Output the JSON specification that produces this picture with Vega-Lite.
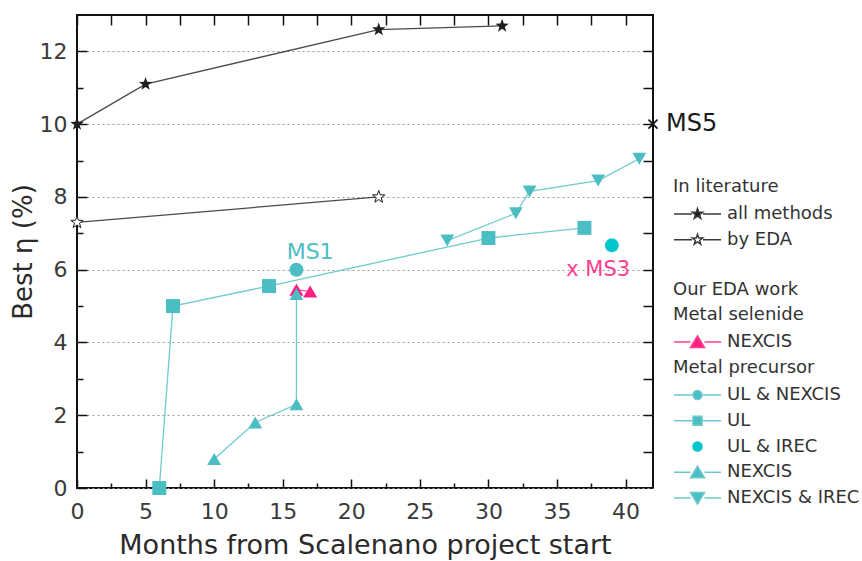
{
  "$schema": "https://vega.github.io/schema/vega-lite/v6.json",
  "width": 576,
  "height": 473,
  "autosize": "none",
  "padding": {"left": 77, "top": 15, "right": 209, "bottom": 73},
  "background": "white",
  "config": {
    "font": "DejaVu Sans",
    "view": {"stroke": "#111", "strokeWidth": 2},
    "axis": {
      "domain": false,
      "tickColor": "#111",
      "tickWidth": 1.5,
      "labelFlush": false,
      "labelFont": "DejaVu Sans",
      "labelFontSize": 22,
      "labelColor": "#3a3a3a",
      "titleFont": "DejaVu Sans",
      "titleFontWeight": "normal",
      "titleColor": "#2a2a2a"
    },
    "legend": {
      "orient": "none",
      "padding": 0,
      "symbolSize": 400,
      "symbolStrokeWidth": 1.5,
      "symbolOpacity": 1,
      "labelOffset": 32,
      "labelFont": "DejaVu Sans",
      "labelFontSize": 18,
      "labelColor": "#333333",
      "labelLimit": 300,
      "rowPadding": 5.75,
      "titleFont": "DejaVu Sans",
      "titleFontSize": 18,
      "titleFontWeight": "normal",
      "titleColor": "#333333",
      "titlePadding": 7,
      "titleLineHeight": 25,
      "titleLimit": 300
    }
  },
  "datasets": {
    "efficiency": [
      {"series": "all methods", "month": 0, "eta": 10.0},
      {"series": "all methods", "month": 5, "eta": 11.1},
      {"series": "all methods", "month": 22, "eta": 12.6},
      {"series": "all methods", "month": 31, "eta": 12.7},
      {"series": "by EDA", "month": 0, "eta": 7.3},
      {"series": "by EDA", "month": 22, "eta": 8.0},
      {"series": "NEXCIS (Se)", "month": 16, "eta": 5.45},
      {"series": "NEXCIS (Se)", "month": 17, "eta": 5.4},
      {"series": "UL & NEXCIS", "month": 16, "eta": 6.0},
      {"series": "UL", "month": 6, "eta": 0.0},
      {"series": "UL", "month": 7, "eta": 5.0},
      {"series": "UL", "month": 14, "eta": 5.55},
      {"series": "UL", "month": 30, "eta": 6.87},
      {"series": "UL", "month": 37, "eta": 7.15},
      {"series": "UL & IREC", "month": 39, "eta": 6.67},
      {"series": "NEXCIS", "month": 10, "eta": 0.8},
      {"series": "NEXCIS", "month": 13, "eta": 1.8},
      {"series": "NEXCIS", "month": 16, "eta": 2.3},
      {"series": "NEXCIS", "month": 16, "eta": 5.33},
      {"series": "NEXCIS & IREC", "month": 27, "eta": 6.8},
      {"series": "NEXCIS & IREC", "month": 32, "eta": 7.55},
      {"series": "NEXCIS & IREC", "month": 33, "eta": 8.15},
      {"series": "NEXCIS & IREC", "month": 38, "eta": 8.45},
      {"series": "NEXCIS & IREC", "month": 41, "eta": 9.05}
    ]
  },
  "resolve": {
    "axis": {"x": "independent", "y": "independent"},
    "scale": {"shape": "independent", "fill": "independent", "stroke": "independent"},
    "legend": {"shape": "independent", "fill": "independent", "stroke": "independent"}
  },
  "layer": [
    {
      "data": {"name": "efficiency"},
      "transform": [{"filter": "datum.series !== 'UL & NEXCIS' && datum.series !== 'UL & IREC'"}],
      "mark": {"type": "line", "strokeWidth": 1.3, "opacity": 0.8},
      "encoding": {
        "x": {
          "field": "month", "type": "quantitative",
          "scale": {"domain": [0, 42], "nice": false, "zero": false},
          "axis": {
            "orient": "bottom",
            "values": [0, 5, 10, 15, 20, 25, 30, 35, 40],
            "offset": -9,
            "tickSize": 9,
            "labelPadding": 13,
            "grid": false,
            "title": "Months from Scalenano project start",
            "titleFontSize": 27,
            "titlePadding": 10
          }
        },
        "y": {
          "field": "eta", "type": "quantitative",
          "scale": {"domain": [0, 13], "nice": false},
          "axis": {
            "orient": "left",
            "values": [0, 2, 4, 6, 8, 10, 12],
            "offset": -10,
            "tickSize": 10,
            "labelPadding": 10,
            "grid": true,
            "gridColor": "#9a9a9a",
            "gridDash": [2, 3],
            "gridWidth": 1.2,
            "title": "Best η (%)",
            "titleFontSize": 26,
            "titlePadding": 3
          }
        },
        "color": {
          "field": "series", "type": "nominal",
          "scale": {
            "domain": ["all methods", "by EDA", "NEXCIS (Se)", "UL & NEXCIS", "UL", "UL & IREC", "NEXCIS", "NEXCIS & IREC"],
            "range": ["#1e1e1e", "#1e1e1e", "#ff1f82", "#4bbec4", "#4bbec4", "#00c6cc", "#4bbec4", "#4bbec4"]
          },
          "legend": null
        }
      }
    },
    {
      "data": {"name": "efficiency"},
      "transform": [{"filter": "datum.series !== 'by EDA'"}],
      "mark": {"type": "point", "filled": true, "opacity": 1, "strokeWidth": 0.8},
      "encoding": {
        "x": {
          "field": "month", "type": "quantitative",
          "axis": {
            "orient": "top",
            "values": [0, 2.5, 5, 7.5, 10, 12.5, 15, 17.5, 20, 22.5, 25, 27.5, 30, 32.5, 35, 37.5, 40],
            "labels": false, "grid": false, "title": null, "offset": -10, "tickSize": 10
          }
        },
        "y": {
          "field": "eta", "type": "quantitative",
          "axis": {
            "orient": "right",
            "values": [1, 2, 3, 4, 5, 6, 7, 8, 9, 10, 11, 12],
            "labels": false, "grid": false, "title": null, "offset": -10, "tickSize": 10
          }
        },
        "color": {"field": "series", "type": "nominal", "legend": null},
        "shape": {
          "field": "series", "type": "nominal", "legend": null,
          "scale": {
            "domain": ["all methods", "NEXCIS (Se)", "UL & NEXCIS", "UL", "UL & IREC", "NEXCIS", "NEXCIS & IREC"],
            "range": ["M0,-1L0.235,-0.324L0.951,-0.309L0.38,0.124L0.588,0.809L0,0.4L-0.588,0.809L-0.38,0.124L-0.951,-0.309L-0.235,-0.324Z", "triangle-up", "circle", "square", "circle", "triangle-up", "triangle-down"]
          }
        },
        "size": {
          "field": "series", "type": "nominal", "legend": null,
          "scale": {
            "domain": ["all methods", "NEXCIS (Se)", "UL & NEXCIS", "UL", "UL & IREC", "NEXCIS", "NEXCIS & IREC"],
            "range": [200, 190, 100, 120, 100, 190, 200]
          }
        }
      }
    },
    {
      "data": {"name": "efficiency"},
      "transform": [{"filter": "datum.series === 'by EDA'"}],
      "mark": {
        "type": "point",
        "filled": false,
        "fill": "#ffffff",
        "fillOpacity": 1,
        "stroke": "#1e1e1e",
        "strokeWidth": 1,
        "opacity": 1,
        "size": 170,
        "shape": "M0,-1L0.235,-0.324L0.951,-0.309L0.38,0.124L0.588,0.809L0,0.4L-0.588,0.809L-0.38,0.124L-0.951,-0.309L-0.235,-0.324Z"
      },
      "encoding": {
        "x": {
          "field": "month", "type": "quantitative",
          "axis": {
            "orient": "bottom",
            "values": [2.5, 7.5, 12.5, 17.5, 22.5, 27.5, 32.5, 37.5],
            "labels": false, "grid": false, "title": null, "offset": -5, "tickSize": 5
          }
        },
        "y": {
          "field": "eta", "type": "quantitative",
          "axis": {
            "orient": "left",
            "values": [1, 3, 5, 7, 9, 11],
            "labels": false, "grid": false, "title": null, "offset": -6, "tickSize": 6
          }
        }
      }
    },
    {
      "data": {"name": "efficiency"},
      "transform": [{"filter": "datum.series === 'all methods' || datum.series === 'by EDA'"}],
      "mark": {"type": "point", "opacity": 0},
      "encoding": {
        "x": {"field": "month", "type": "quantitative", "axis": null},
        "y": {"field": "eta", "type": "quantitative", "axis": null},
        "fill": {
          "field": "series", "type": "nominal",
          "scale": {"domain": ["all methods", "by EDA"], "range": ["#1e1e1e", "#ffffff"]},
          "legend": {"title": "In literature", "legendX": 596, "legendY": 163}
        },
        "stroke": {
          "field": "series", "type": "nominal",
          "scale": {"domain": ["all methods", "by EDA"], "range": ["#3a3a3a", "#3a3a3a"]},
          "legend": {"title": "In literature", "legendX": 596, "legendY": 163}
        },
        "shape": {
          "field": "series", "type": "nominal",
          "scale": {
            "domain": ["all methods", "by EDA"],
            "range": [
              "M-1,0H0.8M1.9,0H3.7M1.35,-0.55L1.479,-0.178L1.873,-0.17L1.559,0.068L1.673,0.445L1.35,0.22L1.027,0.445L1.141,0.068L0.827,-0.17L1.221,-0.178Z",
              "M-1,0H0.8M1.9,0H3.7M1.35,-0.55L1.479,-0.178L1.873,-0.17L1.559,0.068L1.673,0.445L1.35,0.22L1.027,0.445L1.141,0.068L0.827,-0.17L1.221,-0.178Z"
            ]
          },
          "legend": {"title": "In literature", "legendX": 596, "legendY": 163}
        }
      }
    },
    {
      "data": {"name": "efficiency"},
      "transform": [{"filter": "datum.series === 'NEXCIS (Se)'"}],
      "mark": {"type": "point", "opacity": 0},
      "encoding": {
        "x": {"field": "month", "type": "quantitative", "axis": null},
        "y": {"field": "eta", "type": "quantitative", "axis": null},
        "fill": {
          "field": "series", "type": "nominal",
          "scale": {"domain": ["NEXCIS (Se)"], "range": ["#ff1f82"]},
          "legend": {"title": ["Our EDA work", "Metal selenide"], "labelExpr": "'NEXCIS'", "legendX": 596, "legendY": 266}
        },
        "stroke": {
          "field": "series", "type": "nominal",
          "scale": {"domain": ["NEXCIS (Se)"], "range": ["#ff3d8f"]},
          "legend": {"title": ["Our EDA work", "Metal selenide"], "labelExpr": "'NEXCIS'", "legendX": 596, "legendY": 266}
        },
        "shape": {
          "field": "series", "type": "nominal",
          "scale": {"domain": ["NEXCIS (Se)"], "range": ["M-1,0H0.65M2.05,0H3.7M1.35,-0.6L2.05,0.55L0.65,0.55Z"]},
          "legend": {"title": ["Our EDA work", "Metal selenide"], "labelExpr": "'NEXCIS'", "legendX": 596, "legendY": 266}
        }
      }
    },
    {
      "data": {"name": "efficiency"},
      "transform": [{"filter": "datum.series === 'UL & NEXCIS' || datum.series === 'UL' || datum.series === 'UL & IREC' || datum.series === 'NEXCIS' || datum.series === 'NEXCIS & IREC'"}],
      "mark": {"type": "point", "opacity": 0},
      "encoding": {
        "x": {"field": "month", "type": "quantitative", "axis": null},
        "y": {"field": "eta", "type": "quantitative", "axis": null},
        "fill": {
          "field": "series", "type": "nominal",
          "scale": {"domain": ["UL & NEXCIS", "UL", "UL & IREC", "NEXCIS", "NEXCIS & IREC"], "range": ["#4bbec4", "#4bbec4", "#00c6cc", "#4bbec4", "#4bbec4"]},
          "legend": {"title": "Metal precursor", "legendX": 596, "legendY": 344}
        },
        "stroke": {
          "field": "series", "type": "nominal",
          "scale": {"domain": ["UL & NEXCIS", "UL", "UL & IREC", "NEXCIS", "NEXCIS & IREC"], "range": ["#6cc9cd", "#6cc9cd", "#00c6cc", "#6cc9cd", "#6cc9cd"]},
          "legend": {"title": "Metal precursor", "legendX": 596, "legendY": 344}
        },
        "shape": {
          "field": "series", "type": "nominal",
          "scale": {
            "domain": ["UL & NEXCIS", "UL", "UL & IREC", "NEXCIS", "NEXCIS & IREC"],
            "range": [
              "M-1,0H0.9M1.8,0H3.7M1.8,0A0.45,0.45 0 1,1 0.9,0A0.45,0.45 0 1,1 1.8,0Z",
              "M-1,0H0.9M1.8,0H3.7M0.9,-0.45H1.8V0.45H0.9Z",
              "M1.8,0A0.45,0.45 0 1,1 0.9,0A0.45,0.45 0 1,1 1.8,0Z",
              "M-1,0H0.65M2.05,0H3.7M1.35,-0.6L2.05,0.55L0.65,0.55Z",
              "M-1,0H0.65M2.05,0H3.7M1.35,0.6L2.05,-0.55L0.65,-0.55Z"
            ]
          },
          "legend": {"title": "Metal precursor", "legendX": 596, "legendY": 344}
        }
      }
    },
    {
      "data": {"values": [{"milestone": "MS5", "month": 42, "eta": 10}]},
      "mark": {
        "type": "point",
        "filled": false,
        "stroke": "#111111",
        "strokeWidth": 1.6,
        "opacity": 1,
        "size": 100,
        "shape": "M-0.9,-0.9L0.9,0.9M-0.9,0.9L0.9,-0.9"
      },
      "encoding": {
        "x": {"field": "month", "type": "quantitative", "axis": null},
        "y": {"field": "eta", "type": "quantitative", "axis": null}
      }
    },
    {
      "data": {"values": [{"label": "MS5", "month": 42, "eta": 10}]},
      "mark": {"type": "text", "align": "left", "baseline": "middle", "dx": 13, "fontSize": 24, "font": "DejaVu Sans", "color": "#1a1a1a"},
      "encoding": {
        "x": {"field": "month", "type": "quantitative", "axis": null},
        "y": {"field": "eta", "type": "quantitative", "axis": null},
        "text": {"field": "label"}
      }
    },
    {
      "data": {"values": [{"label": "MS1", "month": 17, "eta": 6.48}]},
      "mark": {"type": "text", "align": "center", "baseline": "middle", "fontSize": 22, "font": "DejaVu Sans", "color": "#4bbec4"},
      "encoding": {
        "x": {"field": "month", "type": "quantitative", "axis": null},
        "y": {"field": "eta", "type": "quantitative", "axis": null},
        "text": {"field": "label"}
      }
    },
    {
      "data": {"values": [{"label": "x MS3", "month": 38, "eta": 6.0}]},
      "mark": {"type": "text", "align": "center", "baseline": "middle", "fontSize": 21, "font": "DejaVu Sans", "color": "#ff3d8f"},
      "encoding": {
        "x": {"field": "month", "type": "quantitative", "axis": null},
        "y": {"field": "eta", "type": "quantitative", "axis": null},
        "text": {"field": "label"}
      }
    }
  ]
}
